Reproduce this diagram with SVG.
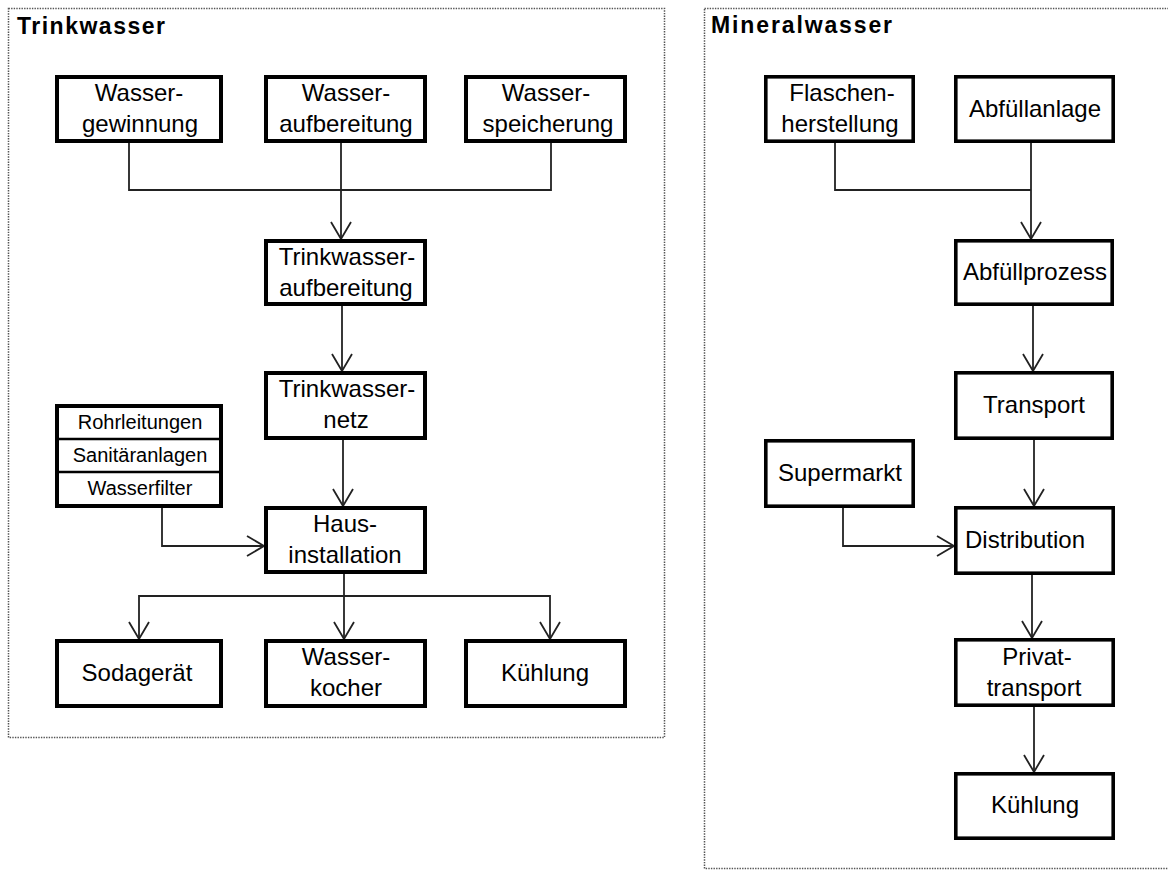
<svg xmlns="http://www.w3.org/2000/svg" width="1168" height="870" viewBox="0 0 1168 870">
<style>
.panel{fill:none;stroke:#555;stroke-width:1.5;stroke-dasharray:1.4 1.2}
.box{fill:#fff;stroke:#000;stroke-width:4}
.boxr{fill:#fff;stroke:#000;stroke-width:3.6}
.div{stroke:#000;stroke-width:2.5}
.t{font-family:"Liberation Sans",Arial,sans-serif;font-size:24px;fill:#000;text-anchor:middle}
.s{font-family:"Liberation Sans",Arial,sans-serif;font-size:20px;fill:#000;text-anchor:middle}
.title{font-family:"Liberation Sans",Arial,sans-serif;font-size:23px;font-weight:bold;fill:#000}
.c{fill:none;stroke:#222;stroke-width:1.8}
</style>
<defs>
<marker id="arr" markerUnits="userSpaceOnUse" viewBox="-20 -12 22 24" refX="0" refY="0" markerWidth="22" markerHeight="24" orient="auto" overflow="visible">
<path d="M-17,-10 L0,0 L-17,10" fill="none" stroke="#222" stroke-width="1.8"/>
</marker>
</defs>
<rect width="1168" height="870" fill="#fff"/>
<g id="panel-trinkwasser">
<rect class="panel" x="8.5" y="8.5" width="656" height="729"/>
<text class="title" x="17" y="34" textLength="148" lengthAdjust="spacing">Trinkwasser</text>
</g>
<g id="panel-mineralwasser">
<rect class="panel" x="704.5" y="8.5" width="480" height="860"/>
<text class="title" x="711" y="33" textLength="181" lengthAdjust="spacing">Mineralwasser</text>
</g>
<g id="connectors">
<path class="c" d="M129,143 V190 H551 V143"/>
<path class="c" d="M341,143 V239" marker-end="url(#arr)"/>
<path class="c" d="M342,306 V371" marker-end="url(#arr)"/>
<path class="c" d="M343,440 V506" marker-end="url(#arr)"/>
<path class="c" d="M162,508 V546 H264" marker-end="url(#arr)"/>
<path class="c" d="M344,574 V639" marker-end="url(#arr)"/>
<path class="c" d="M344,596 H139 V639" marker-end="url(#arr)"/>
<path class="c" d="M344,596 H550 V639" marker-end="url(#arr)"/>
<path class="c" d="M835,143 V190 H1031"/>
<path class="c" d="M1031,143 V239" marker-end="url(#arr)"/>
<path class="c" d="M1033,306 V371" marker-end="url(#arr)"/>
<path class="c" d="M1034,440 V506" marker-end="url(#arr)"/>
<path class="c" d="M843,508 V546 H954" marker-end="url(#arr)"/>
<path class="c" d="M1032,575 V638" marker-end="url(#arr)"/>
<path class="c" d="M1034,707 V772" marker-end="url(#arr)"/>
</g>
<g id="wassergewinnung">
<rect class="box" x="57" y="77" width="164" height="64"/>
<text class="t" x="139" y="101">Wasser-</text>
<text class="t" x="140" y="132">gewinnung</text>
</g>
<g id="wasseraufbereitung">
<rect class="box" x="266" y="77" width="159" height="64"/>
<text class="t" x="346" y="101">Wasser-</text>
<text class="t" x="346" y="132">aufbereitung</text>
</g>
<g id="wasserspeicherung">
<rect class="box" x="466" y="77" width="159" height="64"/>
<text class="t" x="546" y="101">Wasser-</text>
<text class="t" x="548" y="132">speicherung</text>
</g>
<g id="trinkwasseraufbereitung">
<rect class="box" x="266" y="241" width="159" height="63"/>
<text class="t" x="347" y="265">Trinkwasser-</text>
<text class="t" x="346" y="296">aufbereitung</text>
</g>
<g id="trinkwassernetz">
<rect class="box" x="266" y="373" width="159" height="65"/>
<text class="t" x="347" y="397">Trinkwasser-</text>
<text class="t" x="346" y="428">netz</text>
</g>
<g id="hausinstallation">
<rect class="box" x="266" y="508" width="159" height="64"/>
<text class="t" x="345" y="532">Haus-</text>
<text class="t" x="345" y="563">installation</text>
</g>
<g id="komponenten">
<rect class="box" x="57" y="406" width="164" height="100"/>
<line class="div" x1="57" y1="439" x2="221" y2="439"/>
<line class="div" x1="57" y1="472" x2="221" y2="472"/>
<text class="s" x="140" y="429">Rohrleitungen</text>
<text class="s" x="140" y="462">Sanitäranlagen</text>
<text class="s" x="140" y="495">Wasserfilter</text>
</g>
<g id="sodageraet">
<rect class="box" x="57" y="641" width="164" height="65"/>
<text class="t" x="137" y="681">Sodagerät</text>
</g>
<g id="wasserkocher">
<rect class="box" x="266" y="641" width="159" height="65"/>
<text class="t" x="346" y="665">Wasser-</text>
<text class="t" x="346" y="696">kocher</text>
</g>
<g id="kuehlung-t">
<rect class="box" x="466" y="641" width="159" height="65"/>
<text class="t" x="545" y="681">Kühlung</text>
</g>
<g id="flaschenherstellung">
<rect class="boxr" x="765.8" y="76.8" width="147.4" height="64.4"/>
<text class="t" x="842" y="101">Flaschen-</text>
<text class="t" x="840" y="132">herstellung</text>
</g>
<g id="abfuellanlage">
<rect class="boxr" x="955.8" y="76.8" width="157.4" height="64.4"/>
<text class="t" x="1035" y="117">Abfüllanlage</text>
</g>
<g id="abfuellprozess">
<rect class="boxr" x="955.8" y="240.8" width="156.4" height="63.4"/>
<text class="t" x="1035" y="280">Abfüllprozess</text>
</g>
<g id="transport">
<rect class="boxr" x="955.8" y="372.8" width="156.4" height="65.4"/>
<text class="t" x="1034" y="413">Transport</text>
</g>
<g id="supermarkt">
<rect class="boxr" x="765.8" y="440.8" width="147.4" height="65.4"/>
<text class="t" x="840" y="481">Supermarkt</text>
</g>
<g id="distribution">
<rect class="boxr" x="955.8" y="507.8" width="157.4" height="65.4"/>
<text class="t" x="1025" y="548">Distribution</text>
</g>
<g id="privattransport">
<rect class="boxr" x="955.8" y="639.8" width="157.4" height="65.4"/>
<text class="t" x="1037" y="665">Privat-</text>
<text class="t" x="1034" y="696">transport</text>
</g>
<g id="kuehlung-m">
<rect class="boxr" x="955.8" y="773.8" width="157.4" height="64.4"/>
<text class="t" x="1035" y="813">Kühlung</text>
</g>
</svg>
